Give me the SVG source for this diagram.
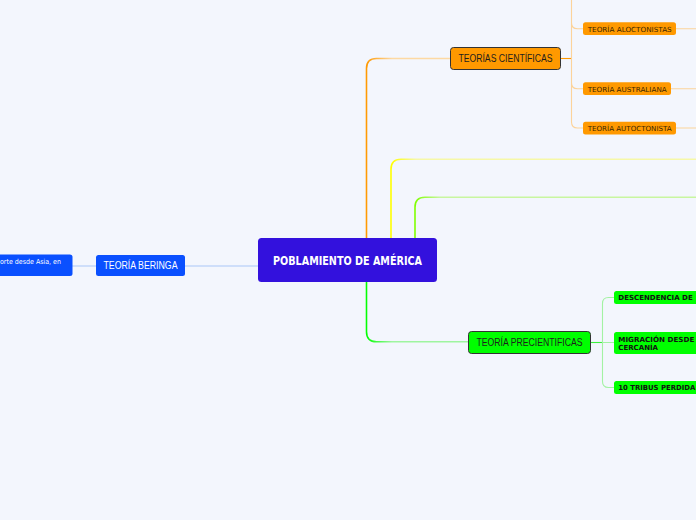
<svg xmlns="http://www.w3.org/2000/svg" width="696" height="520" viewBox="0 0 696 520">
<defs>
<linearGradient id="gOr" gradientUnits="userSpaceOnUse" x1="366" y1="0" x2="392" y2="0"><stop offset="0" stop-color="#ff9900"/><stop offset="1" stop-color="#fdd9a3"/></linearGradient>
<linearGradient id="gYe" gradientUnits="userSpaceOnUse" x1="391" y1="0" x2="416" y2="0"><stop offset="0" stop-color="#ffff00"/><stop offset="1" stop-color="#f6f8a8"/></linearGradient>
<linearGradient id="gLi" gradientUnits="userSpaceOnUse" x1="415" y1="0" x2="440" y2="0"><stop offset="0" stop-color="#80ff00"/><stop offset="1" stop-color="#c8f6a0"/></linearGradient>
<linearGradient id="gGr" gradientUnits="userSpaceOnUse" x1="366" y1="0" x2="392" y2="0"><stop offset="0" stop-color="#00ff00"/><stop offset="1" stop-color="#9ff5a0"/></linearGradient>
</defs>
<style>
.bg{fill:#f3f6fd}
.c{fill:none;stroke-width:1.6}
.sub{fill:none;stroke-width:1.1}
.lo{stroke:#fcd39a}
.lg{stroke:#a3f2a3}
.lb{stroke:#a9c5f7}
.t{font-family:"Liberation Sans",Arial,sans-serif}
.dj{font-family:"DejaVu Sans","Liberation Sans",sans-serif}
</style>
<rect class="bg" x="0" y="0" width="696" height="520"/>
<g id="connectors">
<path class="c" stroke="url(#gOr)" d="M366.5,238 V68.5 Q366.5,58.5 376.5,58.5 H450"/>
<path class="c" stroke="url(#gYe)" d="M391,238 V169.3 Q391,159.3 401,159.3 H696"/>
<path class="c" stroke="url(#gLi)" d="M415,238 V207.3 Q415,197.3 425,197.3 H696"/>
<path class="c" stroke="url(#gGr)" d="M366.5,282 V331.7 Q366.5,341.7 376.5,341.7 H468"/>
<path class="sub lb" d="M258,266 H185 M96,266 H72"/>
<path class="sub" stroke="#ff9900" d="M561,58.5 H571.5"/>
<path class="sub lo" d="M571.5,0 V122 Q571.5,128 577.5,128 H583 M571.5,22.7 Q571.5,28.7 577.5,28.7 H583 M571.5,82.7 Q571.5,88.7 577.5,88.7 H583"/>
<path class="sub lo" d="M676,28.7 H696 M671,88.7 H696 M676,128 H696"/>
<path class="sub" stroke="#3cf03c" d="M591,342.5 H602.5"/>
<path class="sub lg" d="M614,297.5 H608.5 Q602.5,297.5 602.5,303.5 V381.5 Q602.5,387.5 608.5,387.5 H614 M602.5,342.5 H614"/>
</g>
<g id="central">
<rect x="258" y="238" width="179" height="44" rx="3.5" fill="#3311dd"/>
<text class="dj" x="347.5" y="265" font-size="12" font-weight="bold" fill="#ffffff" text-anchor="middle" textLength="149" lengthAdjust="spacingAndGlyphs">POBLAMIENTO DE AMÉRICA</text>
</g>
<g id="beringa">
<rect x="96" y="255" width="89" height="21" rx="2.5" fill="#0a50ff"/>
<text class="t" x="140.5" y="269.2" font-size="10" fill="#ffffff" text-anchor="middle" textLength="74" lengthAdjust="spacingAndGlyphs">TEORÍA BERINGA</text>
</g>
<g id="beringa-desc">
<rect x="-6" y="254.5" width="78.5" height="21.5" rx="2.5" fill="#0a50ff"/>
<text class="dj" x="0" y="263.5" font-size="7" fill="#ffffff" textLength="61" lengthAdjust="spacingAndGlyphs">orte desde Asia, en</text>
</g>
<g id="cientificas">
<rect x="450.5" y="47.5" width="110" height="22" rx="3" fill="#ff9900" stroke="#333333" stroke-width="1"/>
<text class="t" x="505.5" y="62.3" font-size="10" fill="#1e1e1e" text-anchor="middle" textLength="94" lengthAdjust="spacingAndGlyphs">TEORÍAS CIENTÍFICAS</text>
</g>
<g id="aloctonistas">
<rect x="583" y="22.3" width="93" height="12.8" rx="2.5" fill="#ff9900"/>
<text class="dj" x="587.7" y="31.8" font-size="7" fill="#3a2600" textLength="84" lengthAdjust="spacingAndGlyphs">TEORÍA ALOCTONISTAS</text>
</g>
<g id="australiana">
<rect x="583" y="82.3" width="88" height="12.8" rx="2.5" fill="#ff9900"/>
<text class="dj" x="587.7" y="91.6" font-size="7" fill="#3a2600" textLength="79" lengthAdjust="spacingAndGlyphs">TEORÍA AUSTRALIANA</text>
</g>
<g id="autoctonista">
<rect x="583" y="121.7" width="93" height="12.8" rx="2.5" fill="#ff9900"/>
<text class="dj" x="587.7" y="131" font-size="7" fill="#3a2600" textLength="84" lengthAdjust="spacingAndGlyphs">TEORÍA AUTOCTONISTA</text>
</g>
<g id="precientificas">
<rect x="468.5" y="331.5" width="122" height="22" rx="3" fill="#00ff00" stroke="#333333" stroke-width="1"/>
<text class="t" x="529.5" y="346.3" font-size="10" fill="#1e1e1e" text-anchor="middle" textLength="106" lengthAdjust="spacingAndGlyphs">TEORÍA PRECIENTIFICAS</text>
</g>
<g id="descendencia">
<rect x="614" y="291" width="90" height="13" rx="2.5" fill="#00ff00"/>
<text class="dj" x="618.3" y="300.3" font-size="7" font-weight="bold" fill="#111111" textLength="74.4" lengthAdjust="spacingAndGlyphs">DESCENDENCIA DE</text>
</g>
<g id="migracion">
<rect x="614" y="332" width="90" height="22" rx="2.5" fill="#00ff00"/>
<text class="dj" x="618.3" y="342.3" font-size="7" font-weight="bold" fill="#111111" textLength="76" lengthAdjust="spacingAndGlyphs">MIGRACIÓN DESDE</text>
<text class="dj" x="618.3" y="350.2" font-size="7" font-weight="bold" fill="#111111">CERCANÍA</text>
</g>
<g id="tribus">
<rect x="614" y="381" width="90" height="13" rx="2.5" fill="#00ff00"/>
<text class="dj" x="618.3" y="390.3" font-size="7" font-weight="bold" fill="#111111" textLength="77" lengthAdjust="spacingAndGlyphs">10 TRIBUS PERDIDA</text>
</g>
</svg>
